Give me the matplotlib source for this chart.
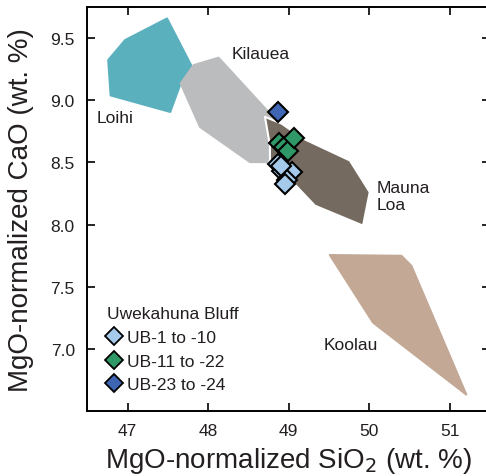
import matplotlib.pyplot as plt
from matplotlib.patches import Polygon
from matplotlib.lines import Line2D

plt.rcParams['font.family'] = ['Liberation Sans', 'DejaVu Sans']
txt = '#231f20'

# field outlines (MgO-normalized SiO2, CaO)
loihi_x = [47.49, 46.97, 46.76, 46.79, 47.53, 47.65, 47.80]
loihi_y = [9.66, 9.486, 9.325, 9.04, 8.907, 9.12, 9.27]

kilauea_x = [48.13, 47.82, 47.66, 47.90, 48.52, 48.73, 48.89, 48.73]
kilauea_y = [9.344, 9.284, 9.136, 8.786, 8.503, 8.503, 8.77, 8.92]

maunaloa_x = [48.706, 48.913, 49.181, 49.760, 50.007, 49.924, 49.326, 48.892, 48.768, 48.768]
maunaloa_y = [8.867, 8.813, 8.692, 8.516, 8.261, 7.991, 8.152, 8.449, 8.516, 8.637]

koolau_x = [49.512, 50.40, 50.524, 51.206, 50.048]
koolau_y = [7.754, 7.748, 7.667, 6.630, 7.210]

# Uwekahuna Bluff samples
ub1_x = [48.867, 48.917, 49.041, 48.979, 48.958, 48.90]
ub1_y = [8.49, 8.435, 8.422, 8.355, 8.328, 8.47]
ub2_x = [48.884, 48.938, 48.991, 49.062]
ub2_y = [8.659, 8.625, 8.589, 8.697]
ub3_x = [48.866]
ub3_y = [8.907]

fig = plt.figure(figsize=(4.86, 4.77), dpi=100)
ax = fig.add_axes([0.1796, 0.1369, 0.8286, 0.8457])

fields = [
    (loihi_x, loihi_y, '#5bb0be', '#5bb0be'),
    (kilauea_x, kilauea_y, '#bbbcbe', '#bbbcbe'),
    (maunaloa_x, maunaloa_y, '#756a60', 'white'),
    (koolau_x, koolau_y, '#c2a895', '#c2a895'),
]
for xs, ys, fc, ec in fields:
    ax.add_patch(Polygon(list(zip(xs, ys)), closed=True, facecolor=fc,
                         edgecolor=ec, lw=1.5, joinstyle='round', zorder=1))

ms = 10.5
ax.plot(ub1_x, ub1_y, 'D', ms=ms, mfc='#a5caeb', mec='black', mew=1.5, ls='none', zorder=3)
ax.plot(ub2_x, ub2_y, 'D', ms=ms, mfc='#2e9966', mec='black', mew=1.5, ls='none', zorder=4)
ax.plot(ub3_x, ub3_y, 'D', ms=ms, mfc='#3f66b2', mec='black', mew=1.5, ls='none', zorder=5)

ax.text(46.62, 8.86, 'Loihi', fontsize=12.5, color=txt, va='center')
ax.text(48.294, 9.379, 'Kilauea', fontsize=12.5, color=txt, va='center')
ax.text(50.087, 8.23, 'Mauna\nLoa', fontsize=12.5, color=txt, va='center', linespacing=1.1)
ax.text(49.429, 7.034, 'Koolau', fontsize=12.5, color=txt, va='center')

handles = [
    Line2D([], [], marker='D', ls='none', ms=9, mfc='#a5caeb', mec='black', mew=1.3),
    Line2D([], [], marker='D', ls='none', ms=9, mfc='#2e9966', mec='black', mew=1.3),
    Line2D([], [], marker='D', ls='none', ms=9, mfc='#3f66b2', mec='black', mew=1.3),
]
leg = ax.legend(handles, ['UB-1 to -10', 'UB-11 to -22', 'UB-23 to -24'],
                title='Uwekahuna Bluff', loc='lower left', bbox_to_anchor=(0.02, 0.015),
                frameon=False, fontsize=12.5, title_fontsize=12.5, alignment='left',
                handlelength=0.8, handletextpad=0.3, labelspacing=0.5, borderaxespad=0.3)
for t in leg.get_texts():
    t.set_color(txt)
leg.get_title().set_color(txt)

ax.set_xlim(46.5, 51.5)
ax.set_ylim(6.5, 9.75)
ax.set_xticks([47, 48, 49, 50, 51])
ax.set_yticks([7.0, 7.5, 8.0, 8.5, 9.0, 9.5])
ax.set_yticklabels(['7.0', '7.5', '8.0', '8.5', '9.0', '9.5'])
ax.tick_params(direction='in', top=True, right=True, length=6, width=1.2,
               labelsize=12.5, labelcolor=txt, pad=9)
for s in ax.spines.values():
    s.set_linewidth(1.4)

ax.set_xlabel('MgO-normalized SiO$_2$ (wt. %)', fontsize=20, color=txt, labelpad=5)
ax.set_ylabel('MgO-normalized CaO (wt. %)', fontsize=20, color=txt, labelpad=12)

fig.savefig('out.png', dpi=100)
